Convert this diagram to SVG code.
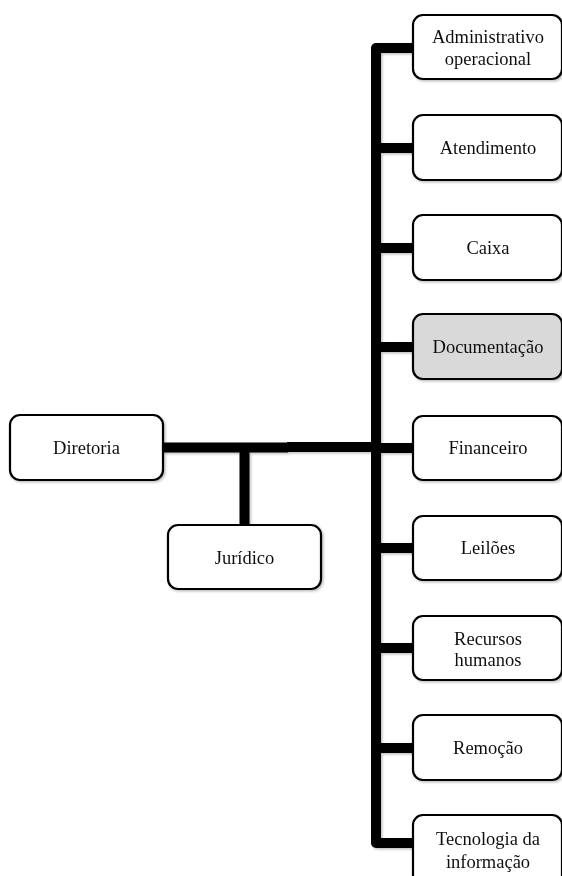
<svg xmlns="http://www.w3.org/2000/svg" width="562" height="876" viewBox="0 0 562 876">
<defs>
<style>
.box{fill:#fff;stroke:#000;stroke-width:2.2}
.gray{fill:#d9d9d9}
.t{font-family:"Liberation Serif","Times New Roman",serif;font-size:18.5px;fill:#111;text-anchor:middle}
.c{fill:none;stroke:#000;stroke-width:10}
</style>
<filter id="sh" x="-10%" y="-10%" width="130%" height="130%">
<feDropShadow dx="1.5" dy="1.5" stdDeviation="1" flood-color="#000" flood-opacity="0.25"/>
</filter>
</defs>
<rect width="562" height="876" fill="#fff"/>
<g id="connectors" filter="url(#sh)">
<path class="c" d="M413 48 H376 V843 H413" stroke-linejoin="round"/>
<path class="c" d="M376 148 H413 M376 248 H413 M376 347 H413 M376 448 H413 M376 548 H413 M376 648 H413 M376 748 H413"/>
<path class="c" d="M163 447.5 H288"/>
<path class="c" d="M287 447 H376"/>
<path class="c" d="M244.5 447 V525"/>
</g>
<g id="diretoria" filter="url(#sh)"><rect class="box" x="10" y="415" width="153" height="65" rx="10"/><text class="t" x="86.5" y="454">Diretoria</text></g>
<g id="juridico" filter="url(#sh)"><rect class="box" x="168" y="525" width="153" height="64" rx="10"/><text class="t" x="244.5" y="564">Jurídico</text></g>
<g id="administrativo" filter="url(#sh)"><rect class="box" x="413" y="15" width="149" height="64" rx="10"/><text class="t" x="488" y="43">Administrativo</text><text class="t" x="488" y="65">operacional</text></g>
<g id="atendimento" filter="url(#sh)"><rect class="box" x="413" y="115" width="149" height="65" rx="10"/><text class="t" x="488" y="154">Atendimento</text></g>
<g id="caixa" filter="url(#sh)"><rect class="box" x="413" y="215" width="149" height="65" rx="10"/><text class="t" x="488" y="254">Caixa</text></g>
<g id="documentacao" filter="url(#sh)"><rect class="box gray" x="413" y="314" width="149" height="65" rx="10"/><text class="t" x="488" y="353">Documentação</text></g>
<g id="financeiro" filter="url(#sh)"><rect class="box" x="413" y="416" width="149" height="64" rx="10"/><text class="t" x="488" y="454">Financeiro</text></g>
<g id="leiloes" filter="url(#sh)"><rect class="box" x="413" y="516" width="149" height="64" rx="10"/><text class="t" x="488" y="554">Leilões</text></g>
<g id="recursos" filter="url(#sh)"><rect class="box" x="413" y="616" width="149" height="64" rx="10"/><text class="t" x="488" y="645">Recursos</text><text class="t" x="488" y="666">humanos</text></g>
<g id="remocao" filter="url(#sh)"><rect class="box" x="413" y="715" width="149" height="65" rx="10"/><text class="t" x="488" y="754">Remoção</text></g>
<g id="tecnologia" filter="url(#sh)"><rect class="box" x="413" y="815" width="149" height="70" rx="10"/><text class="t" x="488" y="845">Tecnologia da</text><text class="t" x="488" y="868">informação</text></g>
</svg>
